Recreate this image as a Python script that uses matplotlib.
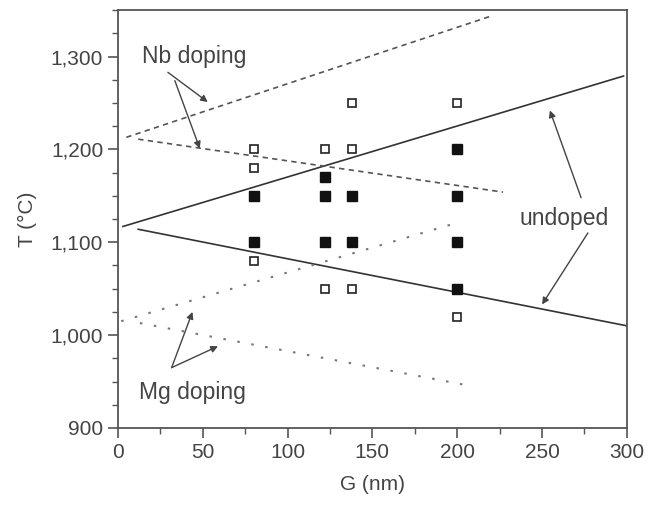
import matplotlib
matplotlib.use("Agg")
import matplotlib.pyplot as plt
from matplotlib.ticker import MultipleLocator, FuncFormatter

plt.rcParams["font.family"] = ["Liberation Sans", "DejaVu Sans"]

# open squares (G in nm, T in degC)
open_g = [80, 80, 80, 122, 122, 138, 138, 138, 200, 200]
open_t = [1200, 1180, 1080, 1200, 1050, 1250, 1200, 1050, 1250, 1020]

# filled squares
filled_g = [80, 80, 122, 122, 122, 138, 138, 200, 200, 200, 200]
filled_t = [1150, 1100, 1170, 1150, 1100, 1150, 1100, 1200, 1150, 1100, 1050]

# boundary lines: (G start, G end), (T start, T end)
undoped_up_g, undoped_up_t = [3, 298], [1117, 1279]
undoped_lo_g, undoped_lo_t = [12, 300], [1114, 1010]
nb_up_g, nb_up_t = [5, 219], [1213, 1343]
nb_lo_g, nb_lo_t = [12, 227], [1211, 1154]
mg_up_g, mg_up_t = [2, 200], [1015, 1121]
mg_lo_g, mg_lo_t = [13, 203], [1013, 947]

line_col = "#333333"
text_col = "#444444"

fig = plt.figure(figsize=(6.51, 5.05), dpi=100)
ax = fig.add_axes([0.181, 0.1525, 0.782, 0.8275])

ax.plot(undoped_up_g, undoped_up_t, color=line_col, lw=1.2)
ax.plot(undoped_lo_g, undoped_lo_t, color=line_col, lw=1.2)
ax.plot(nb_up_g, nb_up_t, color="#555555", lw=1.2, linestyle=(0, (3.2, 2.6)))
ax.plot(nb_lo_g, nb_lo_t, color="#555555", lw=1.2, linestyle=(0, (3.2, 2.6)))
ax.plot(mg_up_g, mg_up_t, color="#777777", lw=1.5, linestyle=(0, (1.2, 5.6)))
ax.plot(mg_lo_g, mg_lo_t, color="#777777", lw=1.5, linestyle=(0, (1.2, 5.6)))

ax.plot(open_g, open_t, "s", ms=5.5, mfc="white", mec="#222222", mew=1.2, ls="none")
ax.plot(filled_g, filled_t, "s", ms=7, mfc="#111111", mec="#111111", ls="none")

arrow = dict(arrowstyle="-|>", color="#444444", lw=1.0, mutation_scale=10, shrinkA=0, shrinkB=0)

ax.text(45, 1300, "Nb doping", fontsize=16.5, color=text_col, ha="center", va="center")
ax.annotate("", xy=(53, 1251), xytext=(29.5, 1283), arrowprops=arrow)
ax.annotate("", xy=(48.3, 1201), xytext=(33.6, 1274), arrowprops=arrow)

ax.text(44, 938, "Mg doping", fontsize=16.5, color=text_col, ha="center", va="center")
ax.annotate("", xy=(44, 1025), xytext=(31.7, 965), arrowprops=arrow)
ax.annotate("", xy=(59, 988), xytext=(31.7, 965), arrowprops=arrow)

ax.text(263, 1126, "undoped", fontsize=16.5, color=text_col, ha="center", va="center")
ax.annotate("", xy=(254.6, 1242), xytext=(273, 1148), arrowprops=arrow)
ax.annotate("", xy=(250, 1033), xytext=(277, 1110), arrowprops=arrow)

ax.set_xlim(0, 300)
ax.set_ylim(900, 1350)
ax.xaxis.set_major_locator(MultipleLocator(50))
ax.xaxis.set_minor_locator(MultipleLocator(25))
ax.yaxis.set_major_locator(MultipleLocator(100))
ax.yaxis.set_minor_locator(MultipleLocator(25))
ax.yaxis.set_major_formatter(FuncFormatter(lambda v, p: f"{int(v):,}"))

ax.tick_params(which="both", direction="out", colors="#555555", labelcolor=text_col,
               top=False, right=False)
ax.tick_params(which="major", length=7, width=1.2, labelsize=15)
ax.tick_params(which="minor", length=4, width=1.0)
for s in ax.spines.values():
    s.set_color("#555555")
    s.set_linewidth(1.3)

ax.set_xlabel("G (nm)", fontsize=15, color=text_col, labelpad=10)
ax.set_ylabel("T (°C)", fontsize=15, color=text_col, labelpad=10)

fig.savefig("out.png", dpi=100)
